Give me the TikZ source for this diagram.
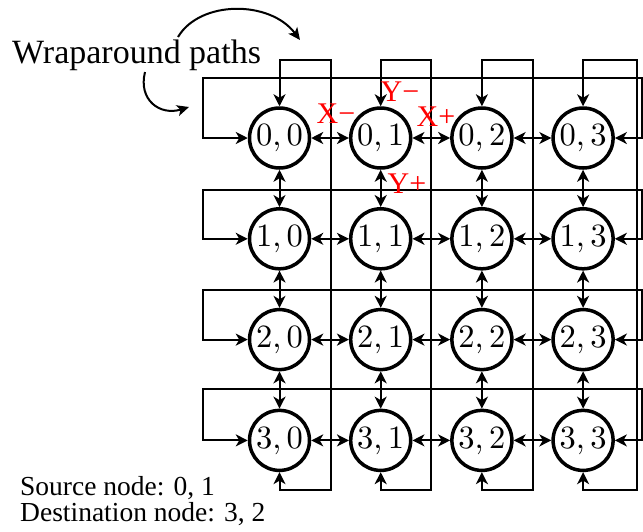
\documentclass[tikz,border=0pt]{standalone}
\usepackage{fontspec}
\newfontfamily\timesfont{Liberation Serif}
\newfontfamily\lmten[Extension=.otf]{lmroman10-regular}
\usetikzlibrary{arrows.meta}

\tikzset{
  router/.style={circle, draw, line width=3.5pt, minimum size=60pt, inner sep=0pt,
    font=\lmten\fontsize{32.5}{36}\selectfont},
  tip/.tip={Stealth[length=12pt,width=12pt,inset=3.5pt]},
  link/.style={line width=2pt, tip-tip},
  dirlabel/.style={text=red, inner sep=0pt, font=\timesfont\fontsize{30}{32}\selectfont},
  note/.style={inner sep=0pt, anchor=base west},
  pointer/.style={line width=2pt, -{Stealth[length=12pt,width=11pt,inset=3pt]}},
}

\begin{document}
\begin{tikzpicture}[x=1pt,y=-1pt]
  \useasboundingbox (0,0) rectangle (643,531);

  % 4x4 torus routers
  \foreach \i/\y in {0/138,1/238.8,2/339.6,3/440.4}
    \foreach \j/\x in {0/279.5,1/380.7,2/481.9,3/583.1}
      \node[router] (n\i\j) at (\x,\y) {\i,\,\j};

  % links between neighbouring routers
  \foreach \i in {0,...,3}
    \foreach \j/\k in {0/1,1/2,2/3} {
      \draw[link] (n\i\j) -- (n\i\k);
      \draw[link] (n\j\i) -- (n\k\i);
    }

  % row wraparound links
  \foreach \i/\yt in {0/78,1/190,2/290,3/389}
    \draw[link] (n\i0.west) -| (203,\yt) -- (641.5,\yt) |- (n\i3.east);

  % column wraparound links
  \foreach \j/\xv in {0/330.7,1/430.7,2/533.3,3/637.3}
    \draw[link] (n0\j.north) |- (\xv,60) -- (\xv,490) -| (n3\j.south);

  % port directions of the source router
  \node[dirlabel] (xm) at (336,114) {X−};
  \node[dirlabel] (ym) at (400,92) {Y−};
  \node[dirlabel] (xp) at (436,117) {X+};
  \node[dirlabel] (yp) at (407,184) {Y+};

  % caption with pointers to the wraparound paths
  \node[note, font=\timesfont\fontsize{34}{36}\selectfont] (wrap) at (12,63) {Wraparound paths};
  \coordinate (upA) at (178,37);
  \coordinate (upB) at (300,40);
  \coordinate (loA) at (145,72);
  \coordinate (loB) at (189,107);
  \draw[pointer] (upA) .. controls (200,0) and (270,0) .. (upB);
  \draw[pointer] (loA) .. controls (138,100) and (160,116) .. (loB);

  % routing endpoints
  \node[note, font=\timesfont\fontsize{27.5}{30}\selectfont] (src) at (20,495) {Source node: 0, 1};
  \node[note, font=\timesfont\fontsize{27.5}{30}\selectfont] (dst) at (20,521) {Destination node: 3, 2};
\end{tikzpicture}
\end{document}
